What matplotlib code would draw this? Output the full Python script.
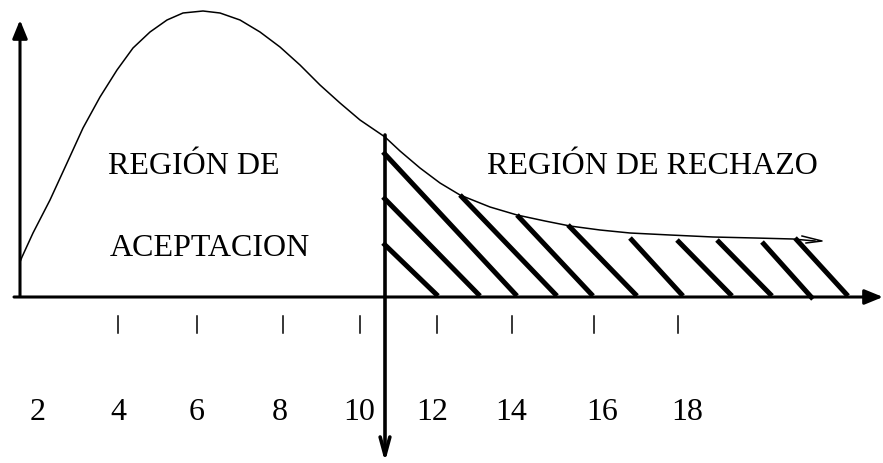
import matplotlib
matplotlib.use("Agg")
import matplotlib.pyplot as plt

# drawing is in picture units (x to the right, y downwards)
curve_x = [20, 22, 33, 50, 67, 83, 100, 117, 133, 150, 167, 183, 203, 220, 240, 260, 280, 300,
           320, 340, 360, 385, 400, 420, 440, 460, 490, 517, 545, 570, 600, 630, 670, 713, 755,
           793, 815]
curve_y = [262, 257, 233, 200, 163, 128, 97, 70, 48, 32, 20, 13, 11, 13, 20, 32, 47, 65,
           85, 103, 120, 137, 151, 168, 183, 195, 207, 215, 221, 226, 230, 233, 235, 237, 238,
           239, 241]
hook_x = [802, 822, 806]
hook_y = [236, 241, 243]

hatch_x0 = [383, 383, 383, 460, 517, 568, 630, 677, 717, 762, 795]
hatch_y0 = [152, 197, 243, 195, 215, 225, 238, 240, 240, 242, 238]
hatch_x1 = [517, 480, 438, 557, 593, 637, 683, 732, 772, 813, 848]
hatch_y1 = [296, 296, 296, 296, 296, 296, 296, 296, 296, 299, 296]

tick_x = [118, 197, 283, 360, 437, 512, 594, 678]
label_x = [38, 118, 197, 280, 359, 432, 511, 602, 687]
labels = ["2", "4", "6", "8", "10", "12", "14", "16", "18"]

fig = plt.figure(figsize=(8.83, 4.63), dpi=100)
ax = fig.add_axes([0, 0, 1, 1])
ax.set_xlim(0, 883)
ax.set_ylim(463, 0)
ax.axis("off")

font = dict(family="Liberation Serif", fontsize=23, color="black")

# axes with arrows
ax.annotate("", xy=(20, 20), xytext=(20, 296),
            arrowprops=dict(arrowstyle="-|>,head_length=1.1,head_width=0.45", lw=2.2, color="black",
                            shrinkA=0, shrinkB=0))
ax.annotate("", xy=(883, 297), xytext=(14, 297),
            arrowprops=dict(arrowstyle="-|>,head_length=1.1,head_width=0.45", lw=2.2, color="black",
                            shrinkA=0, shrinkB=0))
# critical value line pointing down
ax.annotate("", xy=(385, 462), xytext=(385, 135),
            arrowprops=dict(arrowstyle="->,head_length=1.3,head_width=0.35", lw=2.6, color="black",
                            shrinkA=0, shrinkB=0))

# density curve
ax.plot(curve_x, curve_y, color="black", lw=1.1)
ax.plot(hook_x, hook_y, color="black", lw=1.1)

# hatching of the rejection region
for x0, y0, x1, y1 in zip(hatch_x0, hatch_y0, hatch_x1, hatch_y1):
    ax.plot([x0, x1], [y0, y1], color="black", lw=3.6, solid_capstyle="butt")

# tick marks and labels
for x in tick_x:
    ax.plot([x, x], [316, 333], color="black", lw=1.1)
for x, t in zip(label_x, labels):
    ax.text(x, 413, t, ha="center", va="center", **font)

ax.text(194, 167, "REGIÓN DE", ha="center", va="center", **font)
ax.text(210, 248, "ACEPTACION", ha="center", va="center", **font)
ax.text(652, 167, "REGIÓN DE RECHAZO", ha="center", va="center", **font)

fig.savefig("out.png", dpi=100)
